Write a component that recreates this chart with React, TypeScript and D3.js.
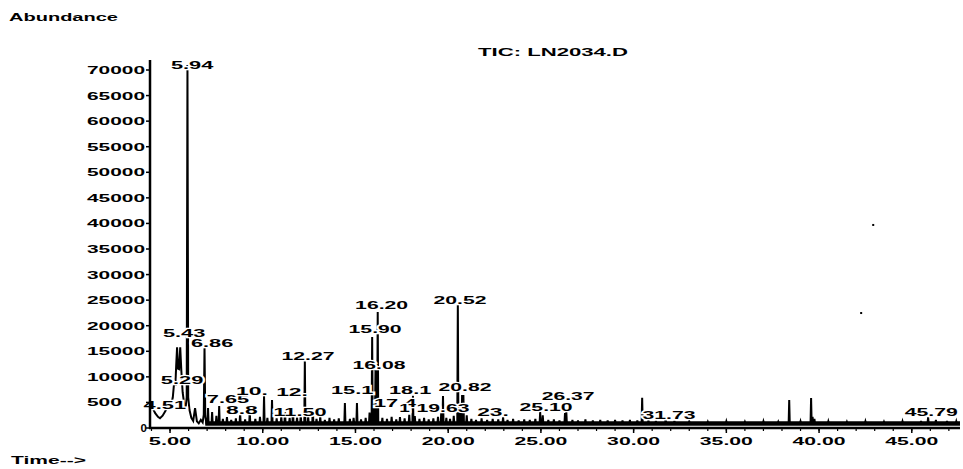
import React from "react";
import * as d3 from "d3";

const W = 963;
const H = 469;

// Axis ticks
const yTickValues = [0, 5000, 10000, 15000, 20000, 25000, 30000, 35000, 40000, 45000, 50000, 55000, 60000, 65000, 70000];
const yTickLabels = ["0", "500", "10000", "15000", "20000", "25000", "30000", "35000", "40000", "45000", "50000", "55000", "60000", "65000", "70000"];
const xTickValues = [5, 10, 15, 20, 25, 30, 35, 40, 45];
const xTickLabels = ["5.00", "10.00", "15.00", "20.00", "25.00", "30.00", "35.00", "40.00", "45.00"];

// Early part of the trace (solvent region), time (min) / abundance
const earlyTimes = [3.92, 4.05, 4.2, 4.35, 4.46, 4.6, 4.75, 4.84, 4.95, 5.05, 5.15, 5.22, 5.29, 5.33, 5.38, 5.43, 5.49, 5.55, 5.61, 5.68, 5.76, 5.84, 5.9, 5.94, 5.98, 6.05, 6.15, 6.25, 6.35, 6.45, 6.55, 6.66, 6.76, 6.82, 6.86, 6.9, 6.96];
const earlyAbund = [4600, 4000, 2900, 2200, 1900, 2400, 3300, 3900, 4100, 4300, 6000, 8800, 8600, 12000, 15800, 11600, 11500, 15800, 11200, 7000, 4800, 4000, 6000, 71000, 6000, 3500, 2000, 1400, 3900, 1300, 900, 1600, 1100, 2600, 15800, 2400, 900];

// Peaks along the rest of the run, time (min) / abundance
const peakTimes = [7.05, 7.27, 7.5, 7.65, 7.85, 8.07, 8.3, 8.55, 8.78, 9.05, 9.3, 9.6, 9.85, 10.07, 10.25, 10.5, 10.75, 11.0, 11.2, 11.45, 11.63, 11.85, 12.05, 12.27, 12.45, 12.7, 12.9, 13.1, 13.35, 13.6, 13.85, 14.1, 14.43, 14.7, 14.9, 15.08, 15.3, 15.55, 15.76, 15.9, 15.98, 16.08, 16.14, 16.2, 16.45, 16.7, 16.95, 17.2, 17.4, 17.65, 17.9, 18.1, 18.2, 18.45, 18.7, 18.95, 19.2, 19.45, 19.63, 19.72, 19.9, 20.1, 20.3, 20.52, 20.65, 20.75, 20.82, 21.0, 21.25, 21.5, 21.8, 22.1, 22.4, 22.7, 22.96, 23.2, 23.5, 23.8, 24.1, 24.4, 24.7, 24.96, 25.1, 25.4, 25.7, 26.0, 26.3, 26.37, 26.7, 27.0, 27.4, 27.8, 28.2, 28.6, 29.0, 29.4, 29.8, 30.2, 30.46, 30.8, 31.2, 31.73, 32.2, 33.0, 34.0, 35.0, 36.0, 37.0, 37.8, 38.39, 39.0, 39.57, 39.65, 39.75, 40.5, 41.5, 42.5, 43.5, 44.5, 45.5, 45.88, 46.3, 46.9, 47.4];
const peakAbund = [3900, 3100, 2400, 4300, 1800, 2150, 1600, 1900, 2900, 1700, 3100, 1800, 2200, 6250, 2000, 5470, 1900, 2300, 3500, 2000, 3900, 2100, 2600, 13300, 2200, 3900, 1800, 2300, 1600, 2000, 1700, 1900, 4900, 1800, 2000, 4900, 1700, 2000, 3000, 17800, 5000, 11400, 5500, 22700, 2000, 1800, 2200, 1700, 2150, 1900, 2600, 6300, 2350, 1800, 2000, 1700, 1900, 2200, 3500, 6250, 2000, 1800, 2400, 24300, 3500, 6450, 6450, 2500, 1800, 1600, 1900, 1600, 1800, 1700, 2150, 1600, 1800, 1500, 1700, 1600, 1800, 3100, 2500, 1600, 1700, 1500, 2900, 3100, 1600, 1500, 1700, 1500, 1600, 1500, 1600, 1500, 1600, 1500, 5900, 1500, 1400, 1800, 1400, 1300, 1200, 1300, 1200, 1300, 1200, 5470, 1300, 5870, 2200, 1800, 1300, 1200, 1300, 1200, 1300, 1400, 2150, 1600, 1400, 1300];

// Peak annotations: text, time of label centre, abundance of label baseline
const labelText = ["5.94", "5.43", "6.86", "5.29", "4.51", "7.65", "10.", "8.8", "12.", "11.50", "12.27", "15.1", "16.20", "15.90", "16.08", "18.1", "17.4", "1", "19.63", "20.52", "20.82", "23.", "25.10", "26.37", "31.73", "45.79"];
const labelTime = [6.19, 5.76, 7.27, 5.65, 4.72, 8.13, 9.42, 8.88, 11.58, 12.01, 12.44, 14.82, 16.41, 16.06, 16.27, 17.95, 17.14, 17.65, 19.72, 20.64, 20.91, 22.42, 25.28, 26.47, 31.91, 46.05];
const labelAbund = [70200, 17800, 15800, 8600, 3700, 4900, 6450, 2740, 6250, 2350, 13300, 6650, 23270, 18570, 11500, 6650, 4100, 3100, 3130, 24240, 7230, 2350, 3320, 5470, 1760, 2350];

// Specks on the scan
const speckTimes = [42.27, 42.92];
const speckAbund = [22480, 39700];

const baselineAbund = 900;
const FONT = "'Liberation Sans', Arial, Helvetica, sans-serif";

export default function App() {
  const x = d3.scaleLinear().domain([3.92, 47.6]).range([150, 960]);
  const y = d3.scaleLinear().domain([0, 70000]).range([428, 70]);

  const pts: [number, number][] = earlyTimes.map((t, i) => [t, earlyAbund[i]]);
  const hw = 0.03;
  peakTimes.forEach((t, i) => {
    pts.push([t - hw, baselineAbund], [t, peakAbund[i]], [t + hw, baselineAbund]);
  });
  pts.push([47.6, baselineAbund]);
  pts.sort((a, b) => a[0] - b[0]);

  const line = d3
    .line<[number, number]>()
    .x((d) => x(d[0]))
    .y((d) => y(d[1]));

  const minorX = d3.range(4, 48, 1);
  const x0 = x(3.92);
  const y0 = y(0);

  return (
    <svg
      width={W}
      height={H}
      viewBox={`0 0 ${W} ${H}`}
      style={{ position: "absolute", left: 0, top: 0, background: "#fff", display: "block" }}
    >
      <rect x={0} y={0} width={W} height={H} fill="#fff" />

      {/* titles */}
      <text x={9} y={21} fontFamily={FONT} fontWeight="bold" fontSize={10} textLength={109} lengthAdjust="spacingAndGlyphs">
        Abundance
      </text>
      <text x={478} y={56} fontFamily={FONT} fontWeight="bold" fontSize={11} textLength={150} lengthAdjust="spacingAndGlyphs">
        TIC: LN2034.D
      </text>
      <text x={11} y={464} fontFamily={FONT} fontWeight="bold" fontSize={10} textLength={75} lengthAdjust="spacingAndGlyphs">
        Time--&gt;
      </text>

      {/* baseline band */}
      <line x1={x(6.9)} x2={x(47.6)} y1={y(baselineAbund)} y2={y(baselineAbund)} stroke="#000" strokeWidth={4.5} />

      {/* trace */}
      <path d={line(pts) || ""} fill="none" stroke="#000" strokeWidth={2} strokeLinejoin="miter" />

      {/* specks */}
      {speckTimes.map((t, i) => (
        <rect key={"s" + i} x={x(t) - 1} y={y(speckAbund[i]) - 1} width={2} height={2} fill="#000" />
      ))}

      {/* peak labels */}
      {labelText.map((t, i) => (
        <text
          key={"l" + i}
          x={x(labelTime[i])}
          y={y(labelAbund[i])}
          textAnchor="middle"
          fontFamily={FONT}
          fontWeight="bold"
          fontSize={11}
          textLength={t.length * 10.6}
          lengthAdjust="spacingAndGlyphs"
          stroke="#fff"
          strokeWidth={2.5}
          paintOrder="stroke"
          fill="#000"
        >
          {t}
        </text>
      ))}

      {/* y axis */}
      <line x1={x0} x2={x0} y1={60} y2={y0 + 1} stroke="#000" strokeWidth={2.5} />
      {yTickValues.map((v, i) => {
        const lab = yTickLabels[i];
        const isShort = lab.length < 3;
        return (
          <g key={"y" + i}>
            <line x1={x0 - 4} x2={x0} y1={y(v)} y2={y(v)} stroke="#000" strokeWidth={1.5} />
            <text
              x={isShort ? 147 : 87}
              y={y(v) + 4}
              textAnchor={isShort ? "end" : "start"}
              fontFamily={FONT}
              fontWeight="bold"
              fontSize={11.5}
              textLength={isShort ? undefined : lab.length * 11.6}
              lengthAdjust="spacingAndGlyphs"
            >
              {lab}
            </text>
          </g>
        );
      })}

      {/* x axis */}
      <line x1={x0 - 1} x2={960} y1={y0} y2={y0} stroke="#000" strokeWidth={2.5} />
      {minorX.map((t) => (
        <line key={"m" + t} x1={x(t)} x2={x(t)} y1={y0} y2={y0 + 3} stroke="#000" strokeWidth={1.2} />
      ))}
      {xTickValues.map((t, i) => (
        <g key={"x" + i}>
          <line x1={x(t)} x2={x(t)} y1={y0} y2={y0 + 5} stroke="#000" strokeWidth={1.5} />
          <text
            x={x(t)}
            y={445}
            textAnchor="middle"
            fontFamily={FONT}
            fontWeight="bold"
            fontSize={11.5}
            textLength={xTickLabels[i].length * 10.6}
            lengthAdjust="spacingAndGlyphs"
          >
            {xTickLabels[i]}
          </text>
        </g>
      ))}
    </svg>
  );
}
